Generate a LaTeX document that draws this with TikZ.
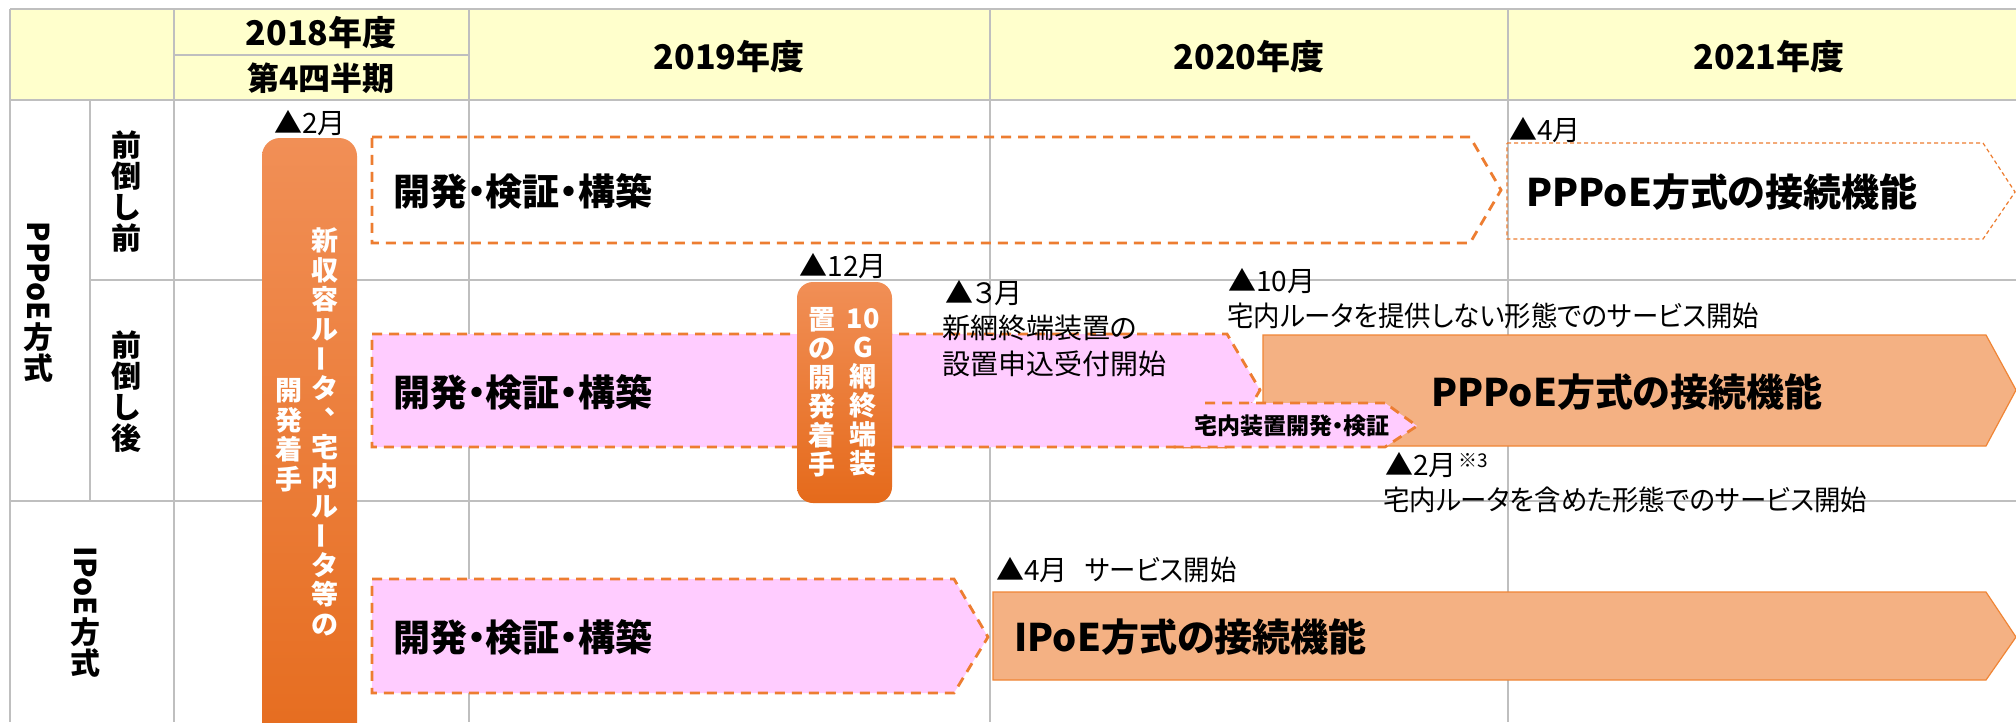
\documentclass[tikz,border=0pt]{standalone}
\usepackage{graphicx}
\usepackage{fontspec}
\setmainfont{Noto Sans CJK JP}[RawFeature=+palt]
\definecolor{hdrfill}{HTML}{FFFFCC}
\definecolor{gridc}{HTML}{BFBFBF}
\definecolor{dashor}{HTML}{ED7D31}
\definecolor{pinkf}{HTML}{FFCCFF}
\definecolor{boxor}{HTML}{F4B183}
\definecolor{boxedge}{HTML}{F08535}
\definecolor{bartop}{HTML}{F18F56}
\definecolor{barbot}{HTML}{E56A1B}
\newcommand\jfont[2]{\fontsize{#1}{#2}\selectfont}
\newcommand\vch{\raisebox{0.12em}{\rotatebox[origin=c]{90}{ー}}}
\newcommand\vcomma{\makebox[1em][l]{\hspace{0.5em}\raisebox{0.5em}{\makebox[0.45em][l]{、}}}}
\newcommand\narrow[1]{\scalebox{0.944}[1]{#1}}
\tikzset{
 gridline/.style={draw=gridc, line width=0.75pt},
 dashshape/.style={draw=dashor, line width=1.4pt, dash pattern=on 5pt off 3.5pt},
 dotshape/.style={draw=dashor, line width=0.6pt, dash pattern=on 2pt off 1.5pt},
 pinkshape/.style={dashshape, fill=pinkf},
 orshape/.style={fill=boxor, draw=boxedge, line width=0.6pt},
 barshape/.style={top color=bartop, bottom color=barbot, draw=none},
 hd/.style={font=\bfseries\jfont{17}{20}, inner sep=0pt},
 hdq/.style={font=\bfseries\jfont{16}{19}, inner sep=0pt},
 vlab/.style={font=\bfseries\jfont{15}{15.5}, align=center, inner sep=0pt},
 bigt/.style={font=\bfseries\jfont{18.5}{22}, inner sep=0pt, anchor=west},
 funct/.style={font=\bfseries\jfont{19}{22}, inner sep=0pt, anchor=west},
 smallt/.style={font=\bfseries\jfont{11.5}{13}, inner sep=0pt},
 note/.style={font=\jfont{14}{17}, inner sep=0pt, anchor=west},
 vbar/.style={font=\bfseries\jfont{13.5}{14.75}, text=white, align=center, inner sep=0pt},
 vboxt/.style={font=\bfseries\jfont{13.5}{14.5}, text=white, align=center, inner sep=0pt},
}
\begin{document}
\begin{tikzpicture}[x=0.5pt, y=-0.5pt]
\useasboundingbox (0,0) rectangle (2016,722);
\clip (0,0) rectangle (2016,722);
\fill[white] (0,0) rectangle (2016,722);
\fill[hdrfill] (10,9) rectangle (2016,100);
% grid
\draw[gridline] (10,9) -- (2016,9);
\draw[gridline] (10,100) -- (2016,100);
\draw[gridline] (174,55) -- (469,55);
\draw[gridline] (90,280) -- (2016,280);
\draw[gridline] (10,501) -- (2016,501);
\draw[gridline] (10,9) -- (10,722);
\draw[gridline] (90,100) -- (90,501);
\draw[gridline] (174,9) -- (174,722);
\draw[gridline] (469,9) -- (469,722);
\draw[gridline] (990,9) -- (990,722);
\draw[gridline] (1508,9) -- (1508,722);
% header texts
\node[hd] (h18) at (321,33) {2018年度};
\node[hdq] (hq) at (321,78) {第4四半期};
\node[hd] (h19) at (729,57) {2019年度};
\node[hd] (h20) at (1249,57) {2020年度};
\node[hd] (h21) at (1769,57) {2021年度};
% row labels
\node[vlab] (lp) at (38,302) {\rotatebox{-90}{PPPoE}\\方\\式};
\node[vlab] (lb1) at (126,192) {前\\倒\\し\\前};
\node[vlab] (lb2) at (126,392) {前\\倒\\し\\後};
\node[vlab] (li) at (85,612) {\rotatebox{-90}{IPoE}\\方\\式};
% row 1 shapes
\draw[dashshape] (372,137) -- (1470,137) -- (1501,190) -- (1470,243) -- (372,243) -- cycle;
\draw[dotshape] (1507,143) -- (1983,143) -- (2015,192) -- (1983,239) -- (1507,239) -- cycle;
% row 2 shapes
\path[pinkshape] (372,334) -- (1227,334) -- (1260,390) -- (1227,447) -- (372,447) -- cycle;
\path[orshape] (1263,335) -- (1986,335) -- (2016,390) -- (1986,446) -- (1263,446) -- cycle;
\fill[pinkf] (1180,403) -- (1385,403) -- (1417,426) -- (1385,447) -- (1180,447) -- cycle;
\draw[dashshape] (1205,403) -- (1385,403) -- (1417,426) -- (1385,447) -- (1170,447);
% row 3 shapes
\path[pinkshape] (372,579) -- (954,579) -- (988,637) -- (954,693) -- (372,693) -- cycle;
\path[orshape] (993,592) -- (1986,592) -- (2016,637) -- (1986,680) -- (993,680) -- cycle;
% orange bars
\path[barshape, rounded corners=9pt] (262,138) rectangle (357,790);
\path[barshape, rounded corners=8pt] (797,282) rectangle (892,503);
% bar texts
\node[vbar] (barR) at (325,432) {新\\収\\容\\ル\\\vch\\タ\\\vcomma\\宅\\内\\ル\\\vch\\タ\\等\\の};
\node[vbar] (barL) at (289,435) {開\\発\\着\\手};
\node[vboxt] (gR) at (863,392) {10\\G\\網\\終\\端\\装};
\node[vboxt] (gL) at (822,392) {置\\の\\開\\発\\着\\手};
% bold texts
\node[bigt] (t1) at (393,191) {開発・検証・構築};
\node[bigt] (t2) at (393,392) {開発・検証・構築};
\node[bigt] (t3) at (393,637) {開発・検証・構築};
\node[funct] (f1) at (1526,192) {PPPoE方式の接続機能};
\node[funct] (f2) at (1431,392) {PPPoE方式の接続機能};
\node[funct] (f3) at (1014,637) {IPoE方式の接続機能};
\node[smallt] (sm) at (1292,426) {宅内装置開発・検証};
% notes
\node[note, anchor=center] (n1) at (310,123) {▲2月};
\node[note] (n2) at (1509,130) {▲4月};
\node[note, anchor=center] (n3) at (843,266) {▲12月};
\node[note] (n4) at (945,293) {▲３月};
\node[note] (n5) at (942,328) {新網終端装置の};
\node[note] (n6) at (942,364) {設置申込受付開始};
\node[note] (n7) at (1228,281) {▲10月};
\node[note] (n8) at (1227,316) {\narrow{宅内ルータを提供しない形態でのサービス開始}};
\node[note] (n9) at (1385,465) {▲2月\hspace{1pt}{\jfont{9.5}{10}\raisebox{4pt}{※3}}};
\node[note] (n10) at (1383,500) {\narrow{宅内ルータを含めた形態でのサービス開始}};
\node[note] (n11) at (996,570) {▲4月\hspace{0.6em}\narrow{サービス開始}};
\end{tikzpicture}
\end{document}
